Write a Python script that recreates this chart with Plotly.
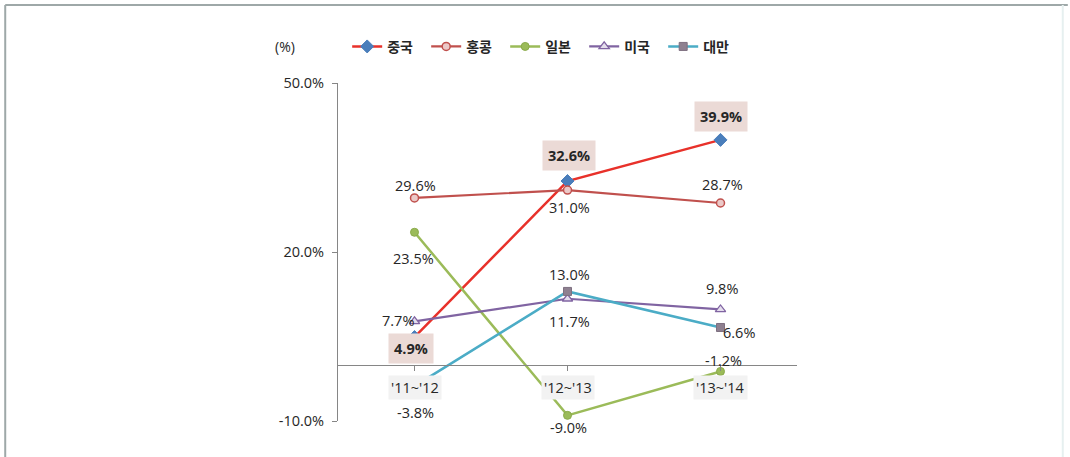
import plotly.graph_objects as go

# Growth rate by period (%)
periods = ["'11~'12", "'12~'13", "'13~'14"]
names = ["중국", "홍콩", "일본", "미국", "대만"]
china = [4.9, 32.6, 39.9]
hongkong = [29.6, 31.0, 28.7]
japan = [23.5, -9.0, -1.2]
usa = [7.7, 11.7, 9.8]
taiwan = [-3.8, 13.0, 6.6]
y_ticks = [-10, 20, 50]
y_range = [-10, 50]

series = [china, hongkong, japan, usa, taiwan]

# per-series styling
styles = [
    dict(line=dict(color="#E8312A", width=2.5),
         marker=dict(symbol="diamond", size=10, color="#4A7EBB", line=dict(color="#4A7EBB", width=1))),
    dict(line=dict(color="#C0504D", width=2.2),
         marker=dict(symbol="circle", size=8, color="#EBC9C8", line=dict(color="#C0504D", width=1.5))),
    dict(line=dict(color="#9BBB59", width=2.5),
         marker=dict(symbol="circle", size=8, color="#9BBB59", line=dict(color="#8AAA4A", width=1))),
    dict(line=dict(color="#8064A2", width=2.2),
         marker=dict(symbol="triangle-up", size=9, color="#E4DDEC", line=dict(color="#8064A2", width=1.3))),
    dict(line=dict(color="#4BACC6", width=2.5),
         marker=dict(symbol="square", size=8, color="#8E8090", line=dict(color="#7E7080", width=1))),
]

# value label offsets in px (xshift, yshift) for each point
label_shifts = [
    [(-4, -11), (1, 26), (0, 23)],
    [(1, 12), (2, -17), (2, 18)],
    [(-1, -26), (1, -12), (3, 11)],
    [(-17, 1), (2, -23), (1, 21)],
    [(1, -26), (2, 17), (18, -5)],
]

LABEL_FONT = "Open Sans, Lato, sans-serif"
KR_FONT = "Noto Sans CJK KR, sans-serif"
TEXT_SIZE = 14.5

fig = go.Figure()
for name, vals, st in zip(names, series, styles):
    fig.add_trace(go.Scatter(
        x=list(range(len(periods))), y=vals, name=name, mode="lines+markers",
        line=st["line"], marker=st["marker"], cliponaxis=False,
    ))

annotations = []
for si, (vals, shifts) in enumerate(zip(series, label_shifts)):
    highlight = si == 0
    for i, v in enumerate(vals):
        xs, ys = shifts[i]
        ann = dict(
            x=i, y=v, xref="x", yref="y", text=f"{v:.1f}%", showarrow=False,
            xshift=xs, yshift=ys,
            font=dict(family=LABEL_FONT, size=TEXT_SIZE, color="#262626"),
        )
        if highlight:
            ann.update(text=f"<b>{v:.1f}%</b>", bgcolor="#EBDAD6", borderpad=5)
        annotations.append(ann)

# category labels sitting just under the zero line
for i, p in enumerate(periods):
    annotations.append(dict(
        x=i, y=0, xref="x", yref="y", text=p, showarrow=False, yshift=-23,
        bgcolor="#F2F2F2", borderpad=2,
        font=dict(family=LABEL_FONT, size=TEXT_SIZE, color="#262626"),
    ))

# unit label
annotations.append(dict(
    x=-0.115, y=1.107, xref="paper", yref="paper", text="(%)", showarrow=False,
    xanchor="center", yanchor="middle",
    font=dict(family=LABEL_FONT, size=14, color="#262626"),
))

# outer frame
shapes = [
    dict(type="line", xref="paper", yref="paper", x0=-0.725, x1=1.59, y0=1.231, y1=1.231,
         line=dict(color="#9EA8A8", width=2)),
    dict(type="line", xref="paper", yref="paper", x0=-0.725, x1=-0.725, y0=1.231, y1=-0.2,
         line=dict(color="#9EA8A8", width=2)),
    dict(type="line", xref="paper", yref="paper", x0=1.579, x1=1.579, y0=1.231, y1=-0.2,
         line=dict(color="#E6F0F0", width=2)),
]

zero_pos = (0 - y_range[0]) / (y_range[1] - y_range[0])

fig.update_layout(
    width=1070, height=457,
    margin=dict(l=338, r=273, t=83, b=36),
    paper_bgcolor="#FFFFFF", plot_bgcolor="rgba(0,0,0,0)",
    showlegend=True,
    legend=dict(
        orientation="h", x=0.02, y=1.107, xanchor="left", yanchor="middle",
        font=dict(family=KR_FONT, size=14, color="#262626", weight="bold"),
        itemwidth=30, entrywidth=34, entrywidthmode="pixels",
        bgcolor="rgba(0,0,0,0)", traceorder="normal",
    ),
    xaxis=dict(
        range=[-0.5, len(periods) - 0.5], anchor="free", position=zero_pos,
        tickmode="array", tickvals=list(range(len(periods))), ticktext=periods,
        tickson="boundaries", ticks="outside", ticklen=5, tickcolor="#868686",
        showticklabels=False, showline=True, linecolor="#868686", linewidth=1,
        showgrid=False, zeroline=False, fixedrange=True,
    ),
    yaxis=dict(
        range=y_range, tickvals=y_ticks, ticktext=[f"{t:.1f}%" for t in y_ticks],
        ticks="outside", ticklen=5, tickcolor="#868686", ticklabelstandoff=5,
        showline=True, linecolor="#868686", linewidth=1,
        showgrid=False, zeroline=False,
        tickfont=dict(family=LABEL_FONT, size=TEXT_SIZE, color="#262626"),
    ),
    annotations=annotations,
    shapes=shapes,
)

fig.write_html("out.html")
